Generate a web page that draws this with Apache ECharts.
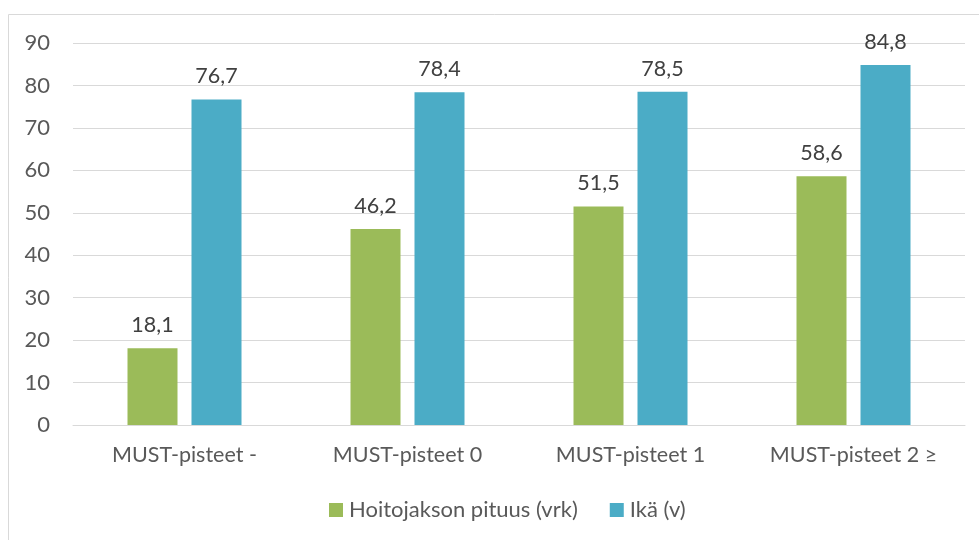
<!DOCTYPE html>
<html><head><meta charset="utf-8">
<script src="https://cdn.jsdelivr.net/npm/echarts@6/dist/echarts.min.js"></script>
<style>html,body{margin:0;padding:0;background:#fff}#c{width:979px;height:540px}</style>
</head><body><div id="c"></div>
<script>
const categories = ['MUST-pisteet -', 'MUST-pisteet 0', 'MUST-pisteet 1', 'MUST-pisteet 2 ≥'];
const hoitojakso = [18.1, 46.2, 51.5, 58.6];
const ika = [76.7, 78.4, 78.5, 84.8];
const seriesNames = ['Hoitojakson pituus (vrk)', 'Ikä (v)'];
const FONT = 'Lato, "Open Sans", sans-serif';
const chart = echarts.init(document.getElementById('c'));
const fmt = p => String(p.value.toFixed(1)).replace('.', ',');
chart.setOption({
  animation: false,
  textStyle: {fontFamily: FONT},
  graphic: [{type: 'rect', shape: {x: 8.5, y: 14.5, width: 1200, height: 800}, style: {fill: 'none', stroke: '#D9D9D9', lineWidth: 1}, silent: true}],
  grid: {left: 73, right: 14, top: 43, bottom: 115},
  legend: {top: 494, left: 324, itemWidth: 14, itemHeight: 14, itemGap: 32,
    textStyle: {fontSize: 22, color: '#595959', fontFamily: FONT, padding: [0, 0, 0, 1]}, icon: 'rect', data: seriesNames},
  xAxis: {type: 'category', data: categories,
    axisLine: {lineStyle: {color: '#D9D9D9', width: 1}}, axisTick: {show: false},
    axisLabel: {fontSize: 21.5, color: '#595959', margin: 19, fontFamily: FONT}},
  yAxis: {type: 'value', min: 0, max: 90, interval: 10,
    axisLine: {show: false}, axisTick: {show: false},
    splitLine: {lineStyle: {color: '#D9D9D9', width: 1}},
    axisLabel: {fontSize: 22, color: '#595959', margin: 23, fontFamily: FONT}},
  series: [
    {name: seriesNames[0], type: 'bar', data: hoitojakso, barWidth: 50, barGap: '28%',
     itemStyle: {color: '#9BBB59'},
     label: {show: true, position: 'top', distance: 12, fontSize: 21.5, color: '#404040', formatter: fmt}},
    {name: seriesNames[1], type: 'bar', data: ika, barWidth: 50,
     itemStyle: {color: '#4BACC6'},
     label: {show: true, position: 'top', distance: 12, fontSize: 21.5, color: '#404040', formatter: fmt}}
  ]
});
</script></body></html>
